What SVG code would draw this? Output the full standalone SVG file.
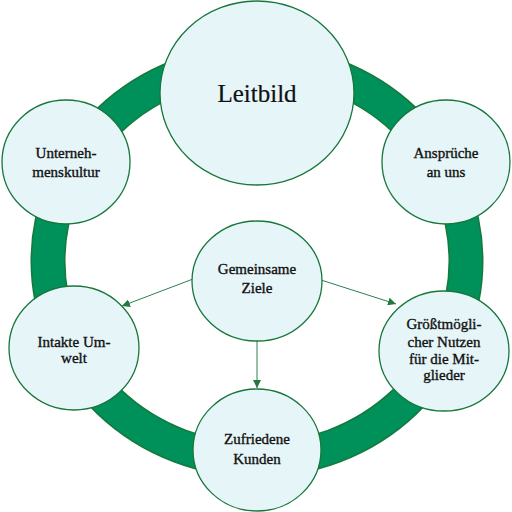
<svg xmlns="http://www.w3.org/2000/svg" width="512" height="512" viewBox="0 0 512 512">
<defs>
<style>
.node{fill:#e6f5f8;stroke:#17773a;stroke-width:1.3}
.t{font-family:"Liberation Serif","Times New Roman",serif;font-size:15px;fill:#111;stroke:#111;stroke-width:0.35;text-anchor:middle}
.big{font-size:25px;stroke-width:0.2}
.conn{stroke:#2e8050;stroke-width:1;fill:none}
</style>
<marker id="ah" viewBox="0 0 10 10" refX="10" refY="5" markerWidth="8" markerHeight="8" markerUnits="userSpaceOnUse" orient="auto">
<path d="M0,0 L10,5 L0,10 z" fill="#1f7a3f"/>
</marker>
</defs>
<rect width="512" height="512" fill="#ffffff"/>
<g id="ring">
<ellipse cx="257" cy="261" rx="209" ry="199" fill="none" stroke="#137a3c" stroke-width="35"/>
<ellipse cx="257" cy="261" rx="209" ry="199" fill="none" stroke="#00915a" stroke-width="32"/>
</g>
<g id="connectors">
<line class="conn" x1="193" y1="279" x2="122" y2="306" marker-end="url(#ah)"/>
<line class="conn" x1="321" y1="280" x2="396" y2="304" marker-end="url(#ah)"/>
<line class="conn" x1="257" y1="341" x2="257" y2="388" marker-end="url(#ah)"/>
</g>
<g id="leitbild">
<ellipse class="node" cx="257" cy="93" rx="97" ry="92"/>
<text class="t big" x="257" y="102">Leitbild</text>
</g>
<g id="unternehmenskultur">
<ellipse class="node" cx="66" cy="162" rx="64" ry="62"/>
<text class="t" x="66" y="158">Unterneh-</text>
<text class="t" x="66" y="177">menskultur</text>
</g>
<g id="ansprueche">
<ellipse class="node" cx="446" cy="162" rx="64" ry="62"/>
<text class="t" x="446" y="158">Ansprüche</text>
<text class="t" x="446" y="177">an uns</text>
</g>
<g id="gemeinsame-ziele">
<ellipse class="node" cx="257" cy="281" rx="65" ry="60"/>
<text class="t" x="257" y="274">Gemeinsame</text>
<text class="t" x="257" y="293">Ziele</text>
</g>
<g id="intakte-umwelt">
<ellipse class="node" cx="74" cy="348" rx="65" ry="62"/>
<text class="t" x="74" y="347">Intakte Um-</text>
<text class="t" x="74" y="363">welt</text>
</g>
<g id="nutzen">
<ellipse class="node" cx="444" cy="351" rx="65" ry="60"/>
<text class="t" x="444" y="329">Größtmögli-</text>
<text class="t" x="444" y="347">cher Nutzen</text>
<text class="t" x="444" y="364">für die Mit-</text>
<text class="t" x="444" y="380">glieder</text>
</g>
<g id="zufriedene-kunden">
<ellipse class="node" cx="257" cy="450" rx="64" ry="61"/>
<text class="t" x="257" y="444">Zufriedene</text>
<text class="t" x="257" y="464">Kunden</text>
</g>
</svg>
